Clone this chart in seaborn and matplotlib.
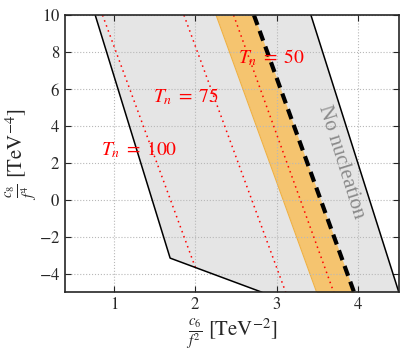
import numpy as np
import pandas as pd
import matplotlib
matplotlib.use("Agg")
import matplotlib.pyplot as plt
import seaborn as sns

# --------------------------
# DATA
# --------------------------
# allowed region (gray), vertices in (c6/f^2, c8/f^4)
region_x = [0.77, 1.69, 2.82, 4.50, 3.42]
region_y = [10.0, -3.15, -5.0, -5.0, 10.0]

# black boundary of the region (left side + right side)
left_edge_x = [0.77, 1.69, 2.82]
left_edge_y = [10.0, -3.15, -5.0]
right_edge_x = [3.42, 4.50]
right_edge_y = [10.0, -5.0]

# orange band, edges at y = 10 and y = -5
band_y = [10.0, -5.0]
band_left_x = [2.255, 3.49]
band_right_x = [2.72, 3.95]   # also the thick dashed line

# Tn contours (dotted red)
tn_labels = ["100", "75", "50"]
tn_x = [[0.86, 2.00], [1.86, 3.11], [2.47, 3.70]]
tn_y = [[10.0, -3.66], [10.0, -5.0], [10.0, -5.0]]
tn_text_x = [0.84, 1.48, 2.52]
tn_text_y = [2.4, 5.3, 7.4]

# --------------------------
# STYLE
# --------------------------
sns.set_style("ticks")
plt.rcParams["font.family"] = ["Liberation Serif", "DejaVu Serif"]
plt.rcParams["mathtext.fontset"] = "stix"
plt.rcParams["xtick.direction"] = "in"
plt.rcParams["ytick.direction"] = "in"

fig, ax = plt.subplots(figsize=(4.07, 3.53), dpi=100)
fig.subplots_adjust(left=0.16, right=0.98, top=0.957, bottom=0.172)

ax.fill(region_x, region_y, color="#e5e5e5", zorder=1, lw=0)
ax.fill_betweenx(band_y, band_left_x, band_right_x, color="#f5c46f", zorder=2, lw=0)
ax.plot(band_left_x, band_y, color="#f0b040", lw=0.8, zorder=2)

edges = pd.DataFrame({"x": left_edge_x, "y": left_edge_y})
sns.lineplot(data=edges, x="x", y="y", sort=False, color="black", lw=1.1, ax=ax, zorder=4)
ax.plot(right_edge_x, right_edge_y, color="black", lw=1.1, zorder=4)

ax.plot(band_right_x, band_y, color="black", lw=3, ls=(0, (2.5, 1.5)), zorder=5)

for lab, xs, ys, tx, ty in zip(tn_labels, tn_x, tn_y, tn_text_x, tn_text_y):
    ax.plot(xs, ys, color="red", lw=1.1, ls=(0, (1, 2.5)), zorder=3)
    ax.text(tx, ty, rf"$T_n\;=\;{lab}$", color="red", fontsize=14, zorder=6)

ax.text(3.79, 2.05, "No nucleation", color="#8a8a8a", fontsize=15, rotation=-72.5,
        ha="center", va="center", zorder=6)

ax.set_xlim(0.4, 4.5)
ax.set_ylim(-5, 10)
ax.set_xticks([1, 2, 3, 4])
ax.set_yticks([-4, -2, 0, 2, 4, 6, 8, 10])
ax.xaxis.set_major_formatter(plt.FuncFormatter(lambda v, p: f"${v:g}$"))
ax.yaxis.set_major_formatter(plt.FuncFormatter(lambda v, p: f"${v:g}$"))
ax.tick_params(top=True, right=True, labelsize=12, length=4, width=0.8)
ax.grid(True, ls=":", color="#b8b8b8", lw=0.8)
ax.set_axisbelow(False)
for s in ax.spines.values():
    s.set_linewidth(1.2)
    s.set_zorder(10)

ax.set_xlabel(r"$\frac{c_6}{f^2}\ [\mathrm{TeV}^{-2}]$", fontsize=15, labelpad=2)
ax.set_ylabel(r"$\frac{c_8}{f^4}\ [\mathrm{TeV}^{-4}]$", fontsize=15, labelpad=0)

fig.savefig("out.png", dpi=100)
